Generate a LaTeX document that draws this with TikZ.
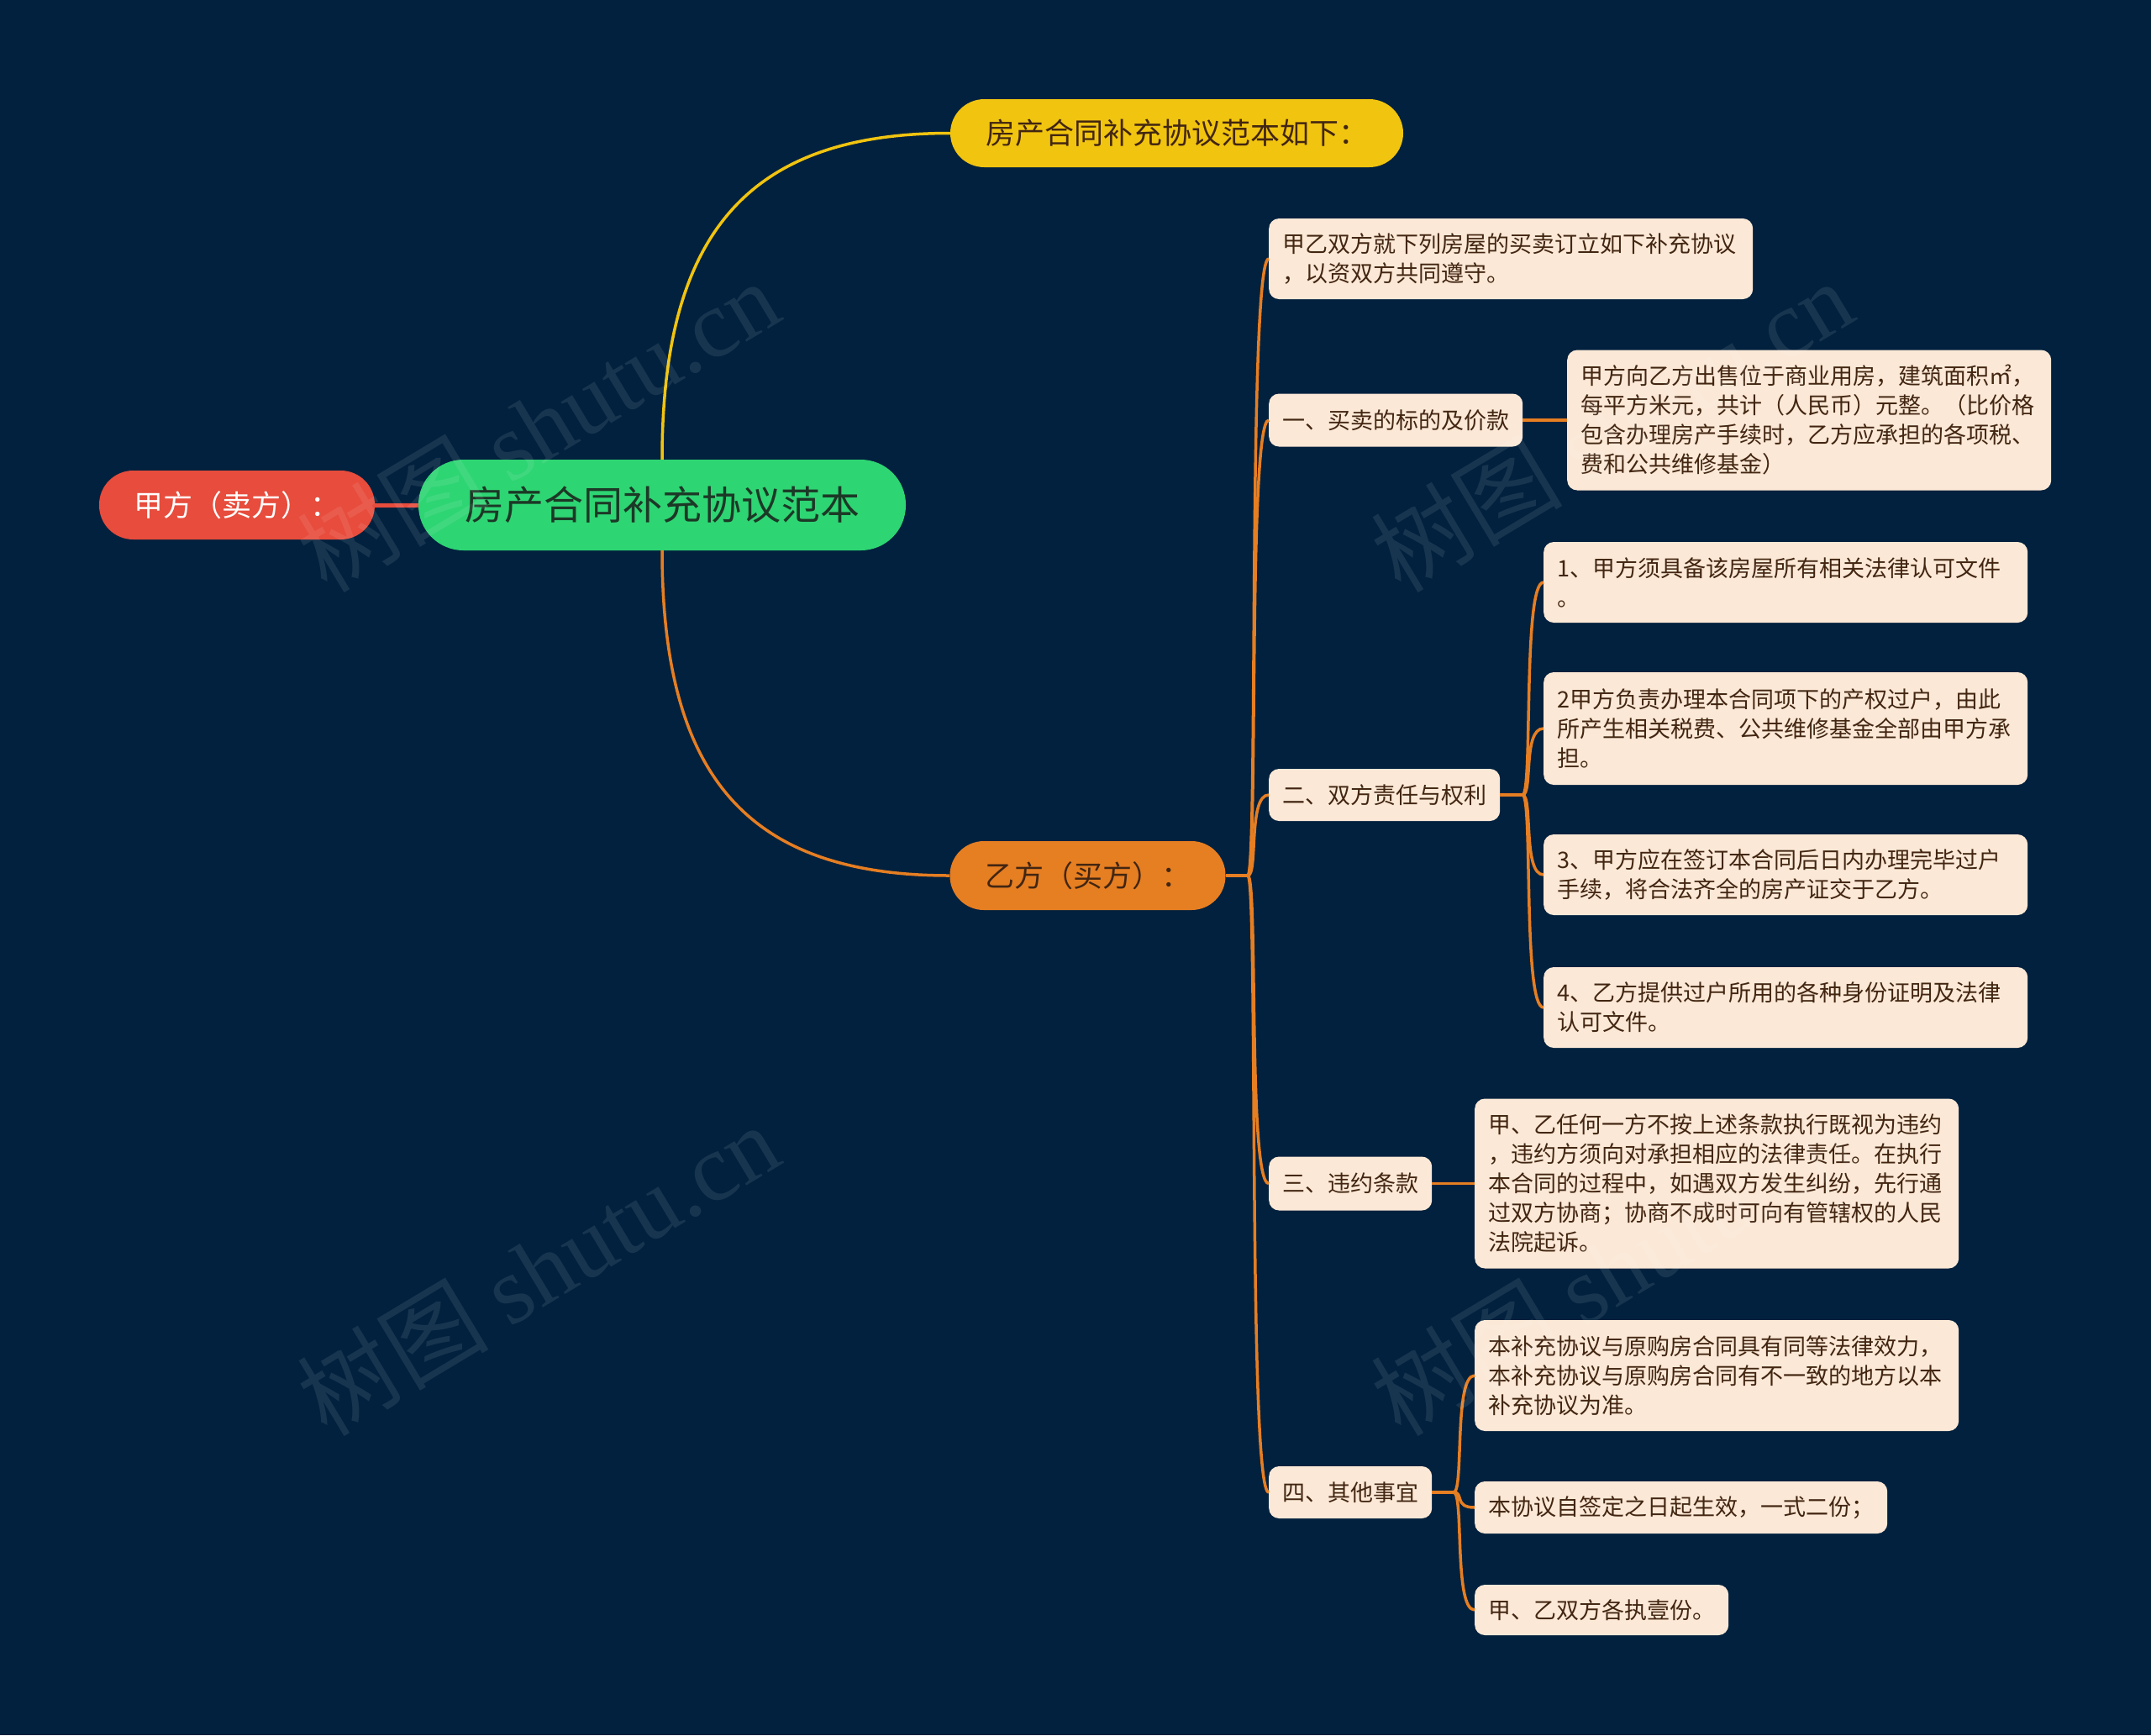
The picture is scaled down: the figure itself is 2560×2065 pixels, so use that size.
\documentclass[tikz,border=0pt]{standalone}
\usepackage{fontspec}
\setmainfont{Noto Sans CJK SC}
\newfontfamily\wmlatin{Liberation Serif}
\usetikzlibrary{calc}
\definecolor{bg}{RGB}{2,33,62}
\definecolor{cgreen}{RGB}{46,213,115}
\definecolor{cred}{RGB}{231,76,60}
\definecolor{cyellow}{RGB}{241,196,15}
\definecolor{corange}{RGB}{230,126,34}
\definecolor{cbeige}{RGB}{251,232,214}
\definecolor{tbrown}{RGB}{66,38,18}
\definecolor{tgreen}{RGB}{28,56,38}
\tikzset{
  pill/.style={fill=#1, inner xsep=0pt, inner ysep=0pt, align=center},
  topic/.style={pill=#1, minimum width=328pt, minimum height=82pt, rounded corners=40.5pt,
    font=\fontsize{35}{40}\selectfont, text=tbrown},
  leaf/.style={fill=cbeige, rounded corners=12pt, inner xsep=16pt, inner ysep=0pt,
    font=\fontsize{27}{35}\selectfont, text=tbrown, align=left, anchor=west},
  para/.style={leaf, text width=544pt},
  oline/.style={draw=corange, line width=3.5pt},
  branch/.style={to path={.. controls +(12.5,0) and (\tikztostart |- \tikztotarget) .. (\tikztotarget)}},
  wmark/.style={rotate=31, opacity=0.09, text=white, font=\fontsize{114}{114}\selectfont}
}
\begin{document}
\begin{tikzpicture}[x=1pt,y=-1pt]
\fill[bg] (0,0) rectangle (2560,2065);
\useasboundingbox (0,0) rectangle (2560,2065);

% central and first-level nodes
\node[pill=cgreen, minimum width=580pt, minimum height=108pt, rounded corners=53.5pt,
  font=\fontsize{47}{50}\selectfont, text=tgreen] (main) at (788,601) {房产合同补充协议范本};
\node[topic=cred, text=white] (jia) at (282,601) {甲方（卖方）：};
\node[topic=cyellow, minimum width=539pt, minimum height=81pt] (yel) at (1400.5,158.5) {房产合同补充协议范本如下：};
\node[topic=corange] (yi) at (1294.5,1042) {乙方（买方）：};

% second level
\node[para, minimum height=96pt] (b0) at (1510,308) {甲乙双方就下列房屋的买卖订立如下补充协议\\，以资双方共同遵守。};
\node[leaf, minimum height=63pt] (b1) at (1510,500) {一、买卖的标的及价款};
\node[leaf, minimum height=62pt] (b2) at (1510,946) {二、双方责任与权利};
\node[leaf, minimum height=64pt] (b3) at (1510,1408.5) {三、违约条款};
\node[leaf, minimum height=62pt] (b4) at (1510,1776) {四、其他事宜};

% third level
\node[para, minimum height=167pt] (b1c) at (1865,500) {甲方向乙方出售位于商业用房，建筑面积㎡，\\每平方米元，共计（人民币）元整。（比价格\\包含办理房产手续时，乙方应承担的各项税、\\费和公共维修基金）};
\node[para, minimum height=96pt] (c1) at (1837,693) {1、甲方须具备该房屋所有相关法律认可文件\\。};
\node[para, minimum height=134pt] (c2) at (1837,867) {2甲方负责办理本合同项下的产权过户，由此\\所产生相关税费、公共维修基金全部由甲方承\\担。};
\node[para, minimum height=96pt] (c3) at (1837,1041) {3、甲方应在签订本合同后日内办理完毕过户\\手续，将合法齐全的房产证交于乙方。};
\node[para, minimum height=96pt] (c4) at (1837,1199) {4、乙方提供过户所用的各种身份证明及法律\\认可文件。};
\node[para, minimum height=202pt] (b3c) at (1755,1408.5) {甲、乙任何一方不按上述条款执行既视为违约\\，违约方须向对承担相应的法律责任。在执行\\本合同的过程中，如遇双方发生纠纷，先行通\\过双方协商；协商不成时可向有管辖权的人民\\法院起诉。};
\node[para, minimum height=132pt] (d1) at (1755,1637) {本补充协议与原购房合同具有同等法律效力，\\本补充协议与原购房合同有不一致的地方以本\\补充协议为准。};
\node[leaf, minimum height=62pt] (d2) at (1755,1794) {本协议自签定之日起生效，一式二份；};
\node[leaf, minimum height=60pt] (d3) at (1755,1916) {甲、乙双方各执壹份。};

% connectors
\draw[draw=cred, line width=5pt] (main.west) -- (jia.east);
\draw[draw=cyellow, line width=3.5pt] (main.north) .. controls +(0,-272) and +(-238,0) .. (yel.west);
\draw[oline] (main.south) .. controls +(0,272) and +(-238,0) .. (yi.west);

\coordinate (t1) at (1485,1042);
\draw[oline] (yi.east) -- (t1);
\foreach \c in {b0,b1,b2,b3,b4} \draw[oline] (t1) to[branch] (\c.west);

\draw[oline] (b1.east) -- (b1c.west);
\coordinate (t2) at (1812,946);
\draw[oline] (b2.east) -- (t2);
\foreach \c in {c1,c2,c3,c4} \draw[oline] (t2) to[branch] (\c.west);

\draw[oline] (b3.east) -- (b3c.west);
\coordinate (t3) at (1730,1776);
\draw[oline] (b4.east) -- (t3);
\foreach \c in {d1,d2,d3} \draw[oline] (t3) to[branch] (\c.west);

% watermarks
\node[wmark] (w1) at (640,506) {树图 {\wmlatin shutu.cn}};
\node[wmark] (w2) at (1918,506) {树图 {\wmlatin shutu.cn}};
\node[wmark] (w3) at (640,1510) {树图 {\wmlatin shutu.cn}};
\node[wmark] (w4) at (1918,1510) {树图 {\wmlatin shutu.cn}};
\end{tikzpicture}
\end{document}
